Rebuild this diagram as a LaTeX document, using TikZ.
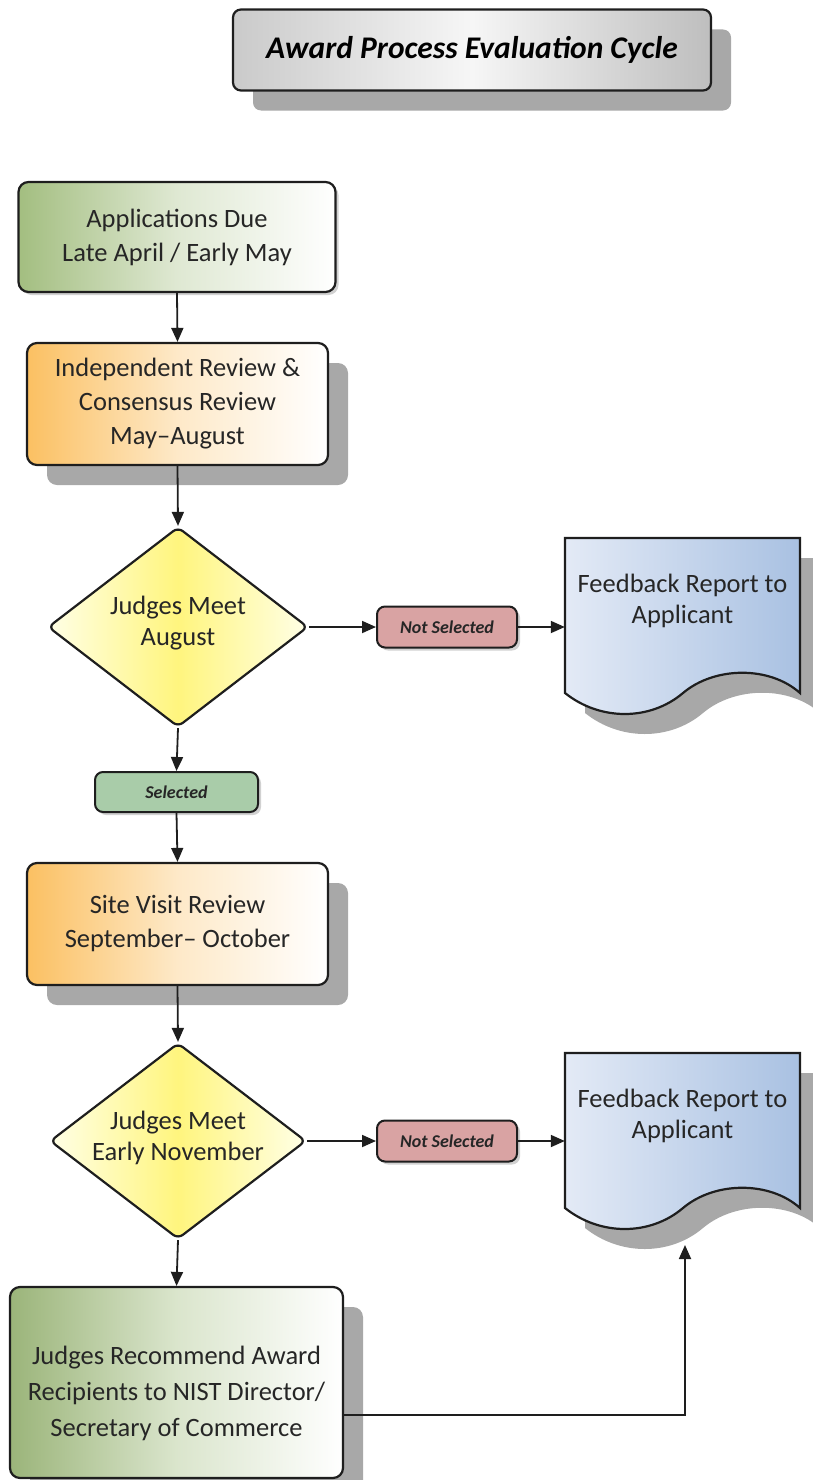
\documentclass[tikz,border=0pt]{standalone}
\usepackage{fontspec}
\setmainfont{Carlito}
\usetikzlibrary{arrows.meta,shapes.geometric,shadows}
\definecolor{edgec}{HTML}{1E1E1E}
\definecolor{textc}{HTML}{262626}
\definecolor{shadc}{HTML}{A8A8A8}
\definecolor{greenl}{HTML}{A3BE80}
\definecolor{orangel}{HTML}{FBC062}
\definecolor{yellowm}{HTML}{FFF57E}
\definecolor{yellows}{HTML}{FFFFE6}
\definecolor{docl}{HTML}{E3EAF6}
\definecolor{docr}{HTML}{A9C1E2}
\definecolor{redl}{HTML}{D9A3A3}
\definecolor{greens}{HTML}{A9CCA9}
\definecolor{titlel}{HTML}{CACACA}
\definecolor{titlem}{HTML}{F6F6F6}
\definecolor{titler}{HTML}{BEBEBE}
\newcommand\mydocshape[1]{%
  \begin{scope}[shift={(0,#1)}]
    \fill[shadc] (585,20) -- (820,20) -- (820,175) .. controls (790,148) and (735,148) .. (703,175) .. controls (670,203) and (620,203) .. (585,175) -- cycle;
    \draw[draw=edgec, line width=2.2pt, left color=docl, right color=docr]
      (565,0) -- (800,0) -- (800,155) .. controls (770,128) and (715,128) .. (683,155) .. controls (650,183) and (600,183) .. (565,155) -- cycle;
  \end{scope}}
\begin{document}
\begin{tikzpicture}[x=1pt,y=-1pt,
  box/.style={rectangle, rounded corners=10pt, draw=edgec, line width=2.2pt, inner sep=0pt, align=center, text=textc, font=\fontsize{26.5}{34}\selectfont},
  bigshadow/.style={drop shadow={shadow xshift=20pt, shadow yshift=-20pt, fill=shadc, opacity=1}},
  smallshadow/.style={drop shadow={shadow xshift=3pt, shadow yshift=-3pt, fill=black!18, opacity=1}},
  decision/.style={diamond, rounded corners=6pt, draw=edgec, line width=2.2pt, inner sep=0pt, left color=yellows, right color=yellows, middle color=yellowm},
  dtext/.style={align=center, text=textc, font=\fontsize{26.5}{31}\selectfont, inner sep=0pt},
  tag/.style={rectangle, rounded corners=8pt, draw=edgec, line width=2pt, inner sep=0pt, minimum width=140pt, minimum height=41pt, text=textc, font=\fontsize{18}{20}\bfseries\itshape},
  edge/.style={line width=1.8pt, draw=edgec, -{Triangle[length=14pt,width=12pt]}}]
\useasboundingbox (0,0) rectangle (813,1480);

% title
\node[box, bigshadow, rounded corners=8pt, minimum width=478pt, minimum height=81pt, left color=titlel, right color=titler, middle color=titlem, text=black, font=\fontsize{31.5}{34}\bfseries\itshape] (title) at (472,50) {Award Process Evaluation Cycle};

% documents
\mydocshape{538}
\mydocshape{1053}
\node[dtext, minimum width=235pt] (doc1) at (682.5,601) {Feedback Report to\\Applicant};
\node[dtext, minimum width=235pt] (doc2) at (682.5,1116) {Feedback Report to\\Applicant};

% boxes
\node[box, smallshadow, minimum width=317pt, minimum height=110pt, left color=greenl, right color=white, middle color=greenl!35] (box1) at (177,237) {Applications Due\\Late April / Early May};
\node[box, bigshadow, minimum width=301pt, minimum height=122pt, left color=orangel, right color=white, middle color=orangel!35] (box2) at (177.5,404) {Independent Review \&\\Consensus Review\\May--August};

\node[decision, minimum width=260pt, minimum height=200pt] (d1) at (178,627) {};
\node[dtext] (d1t) at (178,623) {Judges Meet\\August};

\node[tag, smallshadow, fill=redl] (ns1) at (447,627) {Not Selected};
\node[tag, smallshadow, minimum width=163pt, minimum height=40pt, fill=greens] (sel) at (176.5,792) {Selected};

\node[box, bigshadow, minimum width=301pt, minimum height=122pt, left color=orangel, right color=white, middle color=orangel!35] (box3) at (177.5,924) {Site Visit Review\\September-- October};

\node[decision, minimum width=256pt, minimum height=196pt] (d2) at (178,1141) {};
\node[dtext] (d2t) at (178,1138) {Judges Meet\\Early November};

\node[tag, smallshadow, fill=redl] (ns2) at (447,1141) {Not Selected};

\node[box, bigshadow, minimum width=333pt, minimum height=191pt, left color=greenl!95!black, right color=white, middle color=greenl!40] (box4) at (176.5,1382.5) {};
\node[align=center, text=textc, font=\fontsize{26.5}{36}\selectfont, inner sep=0pt] (box4t) at (176.5,1393) {Judges Recommend Award\\Recipients to NIST Director/\\Secretary of Commerce};

% connectors
\coordinate (c4y) at (0,1415);
\coordinate (c4) at (box4.east |- c4y);
\coordinate (d2tip) at (685,1245);
\draw[edge] (box1.south) -- (box2.north);
\draw[edge] (box2.south) -- (d1.north);
\draw[edge] (d1.east) -- (ns1.west);
\draw[edge] (ns1.east) -- (ns1.east -| doc1.west);
\draw[edge] (d1.south) -- (sel.north);
\draw[edge] (sel.south) -- (box3.north);
\draw[edge] (box3.south) -- (d2.north);
\draw[edge] (d2.east) -- (ns2.west);
\draw[edge] (ns2.east) -- (ns2.east -| doc2.west);
\draw[edge] (d2.south) -- (box4.north);
\draw[edge] (c4) -| (d2tip);
\end{tikzpicture}
\end{document}
